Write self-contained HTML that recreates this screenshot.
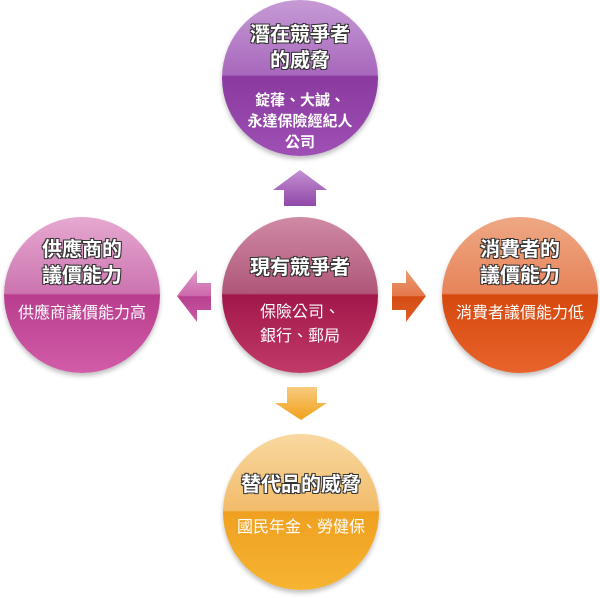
<!DOCTYPE html>
<html><head><meta charset="utf-8"><style>
body{margin:0;width:600px;height:598px;background:#fff;position:relative;overflow:hidden;font-family:"Liberation Sans","Noto Sans CJK TC",sans-serif}
.c{position:absolute;width:156px;height:156px;border-radius:50%;overflow:hidden;box-shadow:0 3px 5px rgba(0,0,0,.25);color:#fff;text-align:center}
.c .t{position:absolute;left:0;right:0;font-size:20px;font-weight:bold;line-height:26px;text-shadow:-1px -1px 0 #333,1px -1px 0 #333,-1px 1px 0 #333,1px 1px 0 #333}
.c .b{position:absolute;left:0;right:0;font-size:15px;line-height:21px}
.a{position:absolute}
</style></head><body>
<div class="c" style="left:222px;top:0;background:linear-gradient(#c69ad4 0%,#a868bd 48%,#8a3a9f 49%,#9e50b4 100%)">
<div class="t" style="top:22px">潛在競爭者<br>的威脅</div>
<div class="b" style="top:90px;font-weight:bold">錠葎、大誠、<br>永達保險經紀人<br>公司</div></div>
<div class="c" style="left:222px;top:217px;background:linear-gradient(#cf8aa4 0%,#b05679 49%,#a2174a 50%,#c03a68 100%)">
<div class="t" style="top:38px">現有競爭者</div>
<div class="b" style="top:84px;font-size:16px;line-height:24px">保險公司、<br>銀行、郵局</div></div>
<div class="c" style="left:4px;top:217px;background:linear-gradient(#e6a8d0 0%,#cc74b0 49%,#b83d8e 50%,#d25ca8 100%)">
<div class="t" style="top:20px">供應商的<br>議價能力</div>
<div class="b" style="top:86px;font-size:16px">供應商議價能力高</div></div>
<div class="c" style="left:442px;top:217px;background:linear-gradient(#eea884 0%,#e7845a 49%,#d6480e 50%,#e8642c 100%)">
<div class="t" style="top:20px">消費者的<br>議價能力</div>
<div class="b" style="top:86px;font-size:16px">消費者議價能力低</div></div>
<div class="c" style="left:223px;top:434px;background:linear-gradient(#f8d8a0 0%,#f2bc6a 49%,#f0a020 50%,#f6b432 100%)">
<div class="t" style="top:38px">替代品的威脅</div>
<div class="b" style="top:83px;font-size:16px">國民年金、勞健保</div></div>
<svg class="a" style="left:0;top:0" width="600" height="598">
<defs>
<linearGradient id="u" x1="0" y1="0" x2="0" y2="1"><stop offset="0" stop-color="#c490d2"/><stop offset="1" stop-color="#9048a8"/></linearGradient>
<linearGradient id="l" x1="0" y1="0" x2="0" y2="1"><stop offset="0" stop-color="#e09cc8"/><stop offset=".5" stop-color="#cc68ac"/><stop offset=".51" stop-color="#b84090"/><stop offset="1" stop-color="#c85aa4"/></linearGradient>
<linearGradient id="r" x1="0" y1="0" x2="0" y2="1"><stop offset="0" stop-color="#eb9a74"/><stop offset=".5" stop-color="#e4784a"/><stop offset=".51" stop-color="#d44a12"/><stop offset="1" stop-color="#e0602a"/></linearGradient>
<linearGradient id="d" x1="0" y1="0" x2="0" y2="1"><stop offset="0" stop-color="#f8cc80"/><stop offset="1" stop-color="#f0a018"/></linearGradient>
</defs>
<polygon points="300,170 327,190 316,190 316,206 284,206 284,190 273,190" fill="url(#u)"/>
<polygon points="177,296 197,270 197,283 211,283 211,310 197,310 197,322" fill="url(#l)"/>
<polygon points="426,296 406,270 406,283 392,283 392,310 406,310 406,322" fill="url(#r)"/>
<polygon points="301,420 327,403 317,403 317,387 287,387 287,403 275,403" fill="url(#d)"/>
</svg>
</body></html>
